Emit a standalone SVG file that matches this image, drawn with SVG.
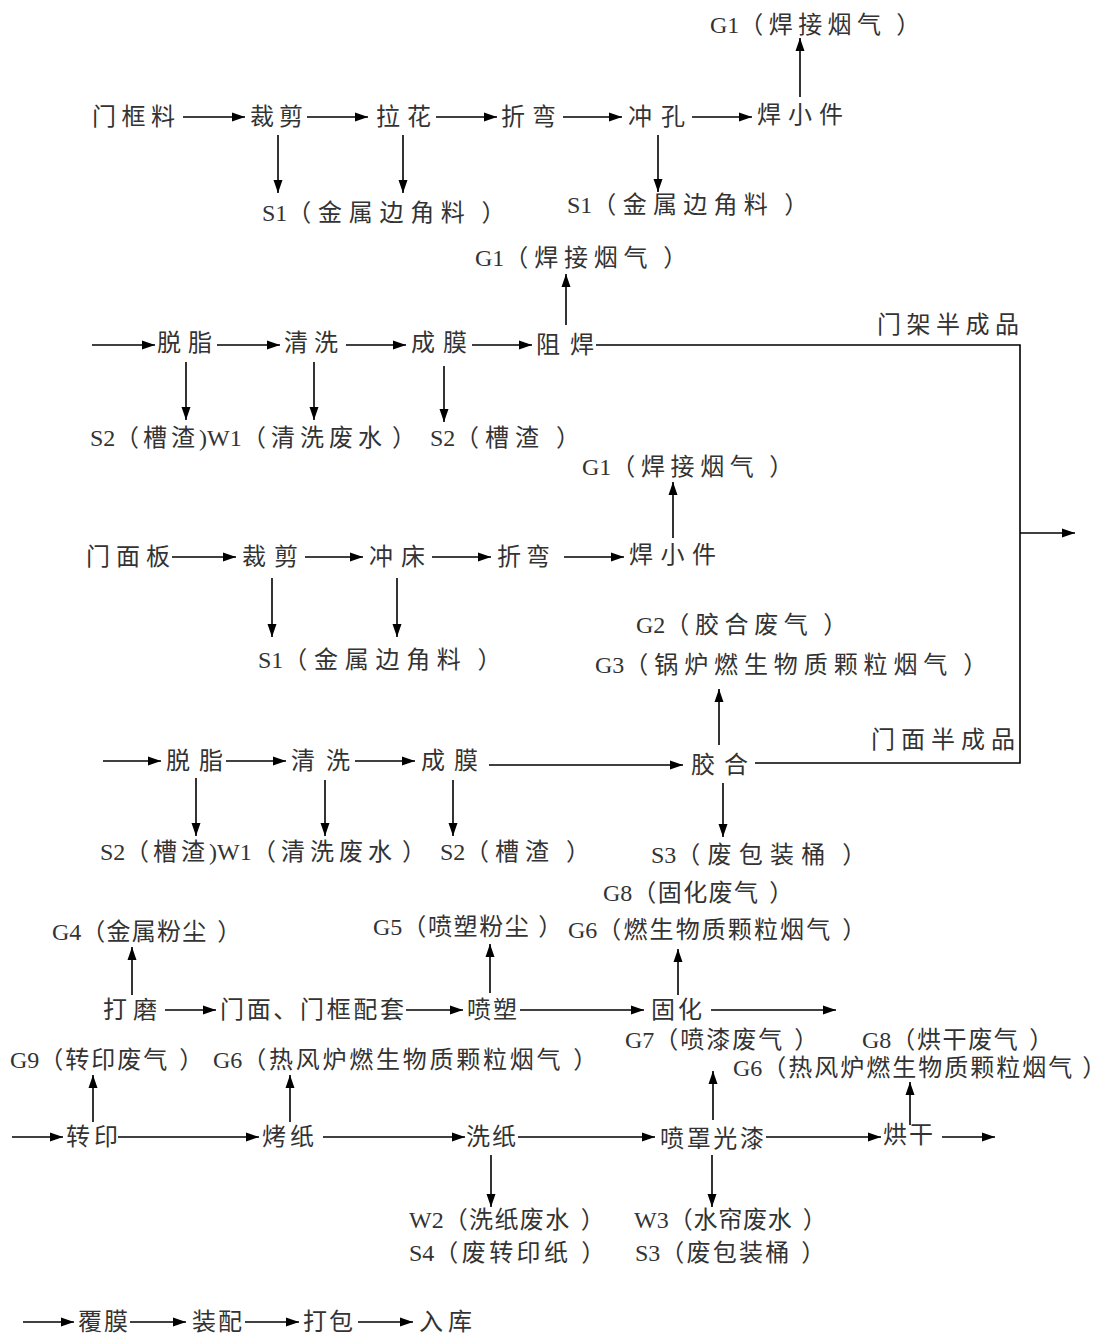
<svg xmlns="http://www.w3.org/2000/svg" width="1109" height="1338" viewBox="0 0 1109 1338">
<style>
text{font-family:"Liberation Serif","Noto Sans CJK SC",serif;font-size:24px;fill:#333;dominant-baseline:central}
.c path{stroke:#000;stroke-width:1.6;fill:none}
.a{marker-end:url(#ah)}
.l{letter-spacing:0}
</style>
<defs>
<marker id="ah" markerUnits="userSpaceOnUse" markerWidth="14" markerHeight="10" refX="13" refY="5" orient="auto">
<path d="M0,0.5 L13,5 L0,9.5 Z" fill="#000"/>
</marker>
</defs>
<rect width="1109" height="1338" fill="#fff"/>
<g class="c" id="connectors">
<path class="a" d="M183,117 H245"/>
<path class="a" d="M307,117 H368"/>
<path class="a" d="M436,117 H497"/>
<path class="a" d="M563,117 H622"/>
<path class="a" d="M692,117 H752"/>
<path class="a" d="M800,97 V38"/>
<path class="a" d="M278,135 V193"/>
<path class="a" d="M403,135 V193"/>
<path class="a" d="M658,135 V192"/>
<path class="a" d="M92,345 H155"/>
<path class="a" d="M217,345 H280"/>
<path class="a" d="M346,345 H406"/>
<path class="a" d="M472,345 H532"/>
<path class="a" d="M566,325 V274"/>
<path d="M596,345 H1020 V763 H755"/>
<path class="a" d="M1020,533 H1075"/>
<path class="a" d="M186,362 V420"/>
<path class="a" d="M314,362 V420"/>
<path class="a" d="M444,366 V422"/>
<path class="a" d="M172,557 H236"/>
<path class="a" d="M305,557 H363"/>
<path class="a" d="M432,557 H491"/>
<path class="a" d="M564,557 H624"/>
<path class="a" d="M673,538 V482"/>
<path class="a" d="M272,578 V637"/>
<path class="a" d="M397,578 V637"/>
<path class="a" d="M103,761 H161"/>
<path class="a" d="M226,761 H286"/>
<path class="a" d="M355,761 H415"/>
<path class="a" d="M489,765 H683"/>
<path class="a" d="M719,745 V689"/>
<path class="a" d="M723,783 V837"/>
<path class="a" d="M196,778 V836"/>
<path class="a" d="M325,780 V836"/>
<path class="a" d="M453,780 V836"/>
<path class="a" d="M165,1010 H216"/>
<path class="a" d="M406,1010 H463"/>
<path class="a" d="M520,1010 H644"/>
<path class="a" d="M711,1010 H836"/>
<path class="a" d="M132,995 V947"/>
<path class="a" d="M490,993 V944"/>
<path class="a" d="M678,995 V949"/>
<path class="a" d="M12,1137 H63"/>
<path class="a" d="M118,1137 H259"/>
<path class="a" d="M323,1137 H465"/>
<path class="a" d="M518,1137 H655"/>
<path class="a" d="M766,1137 H881"/>
<path class="a" d="M942,1137 H995"/>
<path class="a" d="M93,1122 V1075"/>
<path class="a" d="M290,1122 V1075"/>
<path class="a" d="M713,1120 V1071"/>
<path class="a" d="M910,1125 V1082"/>
<path class="a" d="M491,1155 V1207"/>
<path class="a" d="M712,1155 V1207"/>
<path class="a" d="M23,1322 H74"/>
<path class="a" d="M130,1322 H186"/>
<path class="a" d="M245,1322 H299"/>
<path class="a" d="M358,1322 H413"/>
</g>
<!-- row 1 -->
<g id="n_menkuangliao"><text x="92" y="117" textLength="83">门框料</text></g>
<g id="n_caijian1"><text x="250" y="117" textLength="53">裁剪</text></g>
<g id="n_lahua"><text x="376" y="117" textLength="55">拉花</text></g>
<g id="n_zhewan1"><text x="501" y="117" textLength="55">折弯</text></g>
<g id="n_chongkong"><text x="628" y="117" textLength="57">冲孔</text></g>
<g id="n_hanxiaojian1"><text x="757" y="115" textLength="86">焊小件</text></g>
<g id="n_g1a"><text x="710" y="25" style="letter-spacing:5.4px"><tspan class="l">G1</tspan>（焊接烟气<tspan dx="10">）</tspan></text></g>
<g id="n_s1a"><text x="262" y="213" style="letter-spacing:6.7px"><tspan class="l">S1</tspan>（金属边角料<tspan dx="10">）</tspan></text></g>
<g id="n_s1b"><text x="567" y="205" style="letter-spacing:6.3px"><tspan class="l">S1</tspan>（金属边角料<tspan dx="10">）</tspan></text></g>
<!-- row 2 -->
<g id="n_tuozhi1"><text x="157" y="343" textLength="55">脱脂</text></g>
<g id="n_qingxi1"><text x="284" y="343" textLength="54">清洗</text></g>
<g id="n_chengmo1"><text x="411" y="343" textLength="56">成膜</text></g>
<g id="n_zuhan"><text x="536" y="345" textLength="58">阻焊</text></g>
<g id="n_g1b"><text x="475" y="258" style="letter-spacing:5.8px"><tspan class="l">G1</tspan>（焊接烟气<tspan dx="10">）</tspan></text></g>
<g id="n_menjia"><text x="877" y="325" textLength="142">门架半成品</text></g>
<g id="n_waste2"><text y="438"><tspan x="90" class="l">S2</tspan><tspan x="115" style="letter-spacing:4px">（槽渣</tspan><tspan x="199" class="l">)W1</tspan><tspan x="242" style="letter-spacing:5px">（清洗废水</tspan><tspan x="392">）</tspan><tspan x="430" class="l">S2</tspan><tspan x="455" style="letter-spacing:6px">（槽渣</tspan><tspan x="556">）</tspan></text></g>
<!-- row 3 -->
<g id="n_menmianban"><text x="86" y="557" textLength="84">门面板</text></g>
<g id="n_caijian2"><text x="242" y="557" textLength="56">裁剪</text></g>
<g id="n_chongchuang"><text x="369" y="557" textLength="56">冲床</text></g>
<g id="n_zhewan2"><text x="497" y="557" textLength="53">折弯</text></g>
<g id="n_hanxiaojian2"><text x="629" y="555" textLength="87">焊小件</text></g>
<g id="n_g1c"><text x="582" y="467" style="letter-spacing:5.6px"><tspan class="l">G1</tspan>（焊接烟气<tspan dx="10">）</tspan></text></g>
<g id="n_s1c"><text x="258" y="660" style="letter-spacing:6.7px"><tspan class="l">S1</tspan>（金属边角料<tspan dx="10">）</tspan></text></g>
<!-- row 4 -->
<g id="n_tuozhi2"><text x="166" y="761" textLength="57">脱脂</text></g>
<g id="n_qingxi2"><text x="291" y="761" textLength="59">清洗</text></g>
<g id="n_chengmo2"><text x="421" y="761" textLength="57">成膜</text></g>
<g id="n_jiaohe"><text x="691" y="765" textLength="57">胶合</text></g>
<g id="n_g2g3"><text x="636" y="625" style="letter-spacing:5.6px"><tspan class="l">G2</tspan>（胶合废气<tspan dx="10">）</tspan></text><text x="595" y="665" style="letter-spacing:5.9px"><tspan class="l">G3</tspan>（锅炉燃生物质颗粒烟气<tspan dx="10">）</tspan></text></g>
<g id="n_menmian"><text x="871" y="740" textLength="144">门面半成品</text></g>
<g id="n_waste4"><text y="852"><tspan x="100" class="l">S2</tspan><tspan x="125" style="letter-spacing:4px">（槽渣</tspan><tspan x="209" class="l">)W1</tspan><tspan x="252" style="letter-spacing:5px">（清洗废水</tspan><tspan x="402">）</tspan><tspan x="440" class="l">S2</tspan><tspan x="465" style="letter-spacing:6px">（槽渣</tspan><tspan x="566">）</tspan></text></g>
<g id="n_s3a"><text x="651" y="855" style="letter-spacing:7.2px"><tspan class="l">S3</tspan>（废包装桶<tspan dx="10">）</tspan></text></g>
<!-- row 5 -->
<g id="n_damo"><text x="103" y="1010" textLength="54">打磨</text></g>
<g id="n_peitao"><text x="220" y="1010" textLength="184">门面、门框配套</text></g>
<g id="n_pensu"><text x="467" y="1010" textLength="50">喷塑</text></g>
<g id="n_guhua"><text x="651" y="1010" textLength="51">固化</text></g>
<g id="n_g4"><text x="52" y="932" style="letter-spacing:1.2px"><tspan class="l">G4</tspan>（金属粉尘<tspan dx="10">）</tspan></text></g>
<g id="n_g5"><text x="373" y="927" style="letter-spacing:1.6px"><tspan class="l">G5</tspan>（喷塑粉尘<tspan dx="8">）</tspan></text></g>
<g id="n_g8g6"><text x="603" y="893" style="letter-spacing:1.4px"><tspan class="l">G8</tspan>（固化废气<tspan dx="10">）</tspan></text><text x="568" y="930" style="letter-spacing:2.1px"><tspan class="l">G6</tspan>（燃生物质颗粒烟气<tspan dx="10">）</tspan></text></g>
<!-- row 6 -->
<g id="n_zhuanyin"><text x="66" y="1137" textLength="52">转印</text></g>
<g id="n_kaozhi"><text x="262" y="1137" textLength="52">烤纸</text></g>
<g id="n_xizhi"><text x="466" y="1137" textLength="50">洗纸</text></g>
<g id="n_penzhao"><text x="660" y="1139" textLength="104">喷罩光漆</text></g>
<g id="n_honggan"><text x="883" y="1135" textLength="50">烘干</text></g>
<g id="n_g9"><text x="10" y="1060" style="letter-spacing:2px"><tspan class="l">G9</tspan>（转印废气<tspan dx="10">）</tspan></text></g>
<g id="n_g6c"><text x="213" y="1060" style="letter-spacing:2.75px"><tspan class="l">G6</tspan>（热风炉燃生物质颗粒烟气<tspan dx="10">）</tspan></text></g>
<g id="n_g7"><text x="625" y="1040" style="letter-spacing:2px"><tspan class="l">G7</tspan>（喷漆废气<tspan dx="10">）</tspan></text></g>
<g id="n_g8g6b"><text x="862" y="1040" style="letter-spacing:1.6px"><tspan class="l">G8</tspan>（烘干废气<tspan dx="10">）</tspan></text><text x="733" y="1068" style="letter-spacing:2px"><tspan class="l">G6</tspan>（热风炉燃生物质颗粒烟气<tspan dx="8">）</tspan></text></g>
<g id="n_w2s4"><text x="409" y="1220" style="letter-spacing:1.4px"><tspan class="l">W2</tspan>（洗纸废水<tspan dx="10">）</tspan></text><text x="409" y="1253" style="letter-spacing:3.4px"><tspan class="l">S4</tspan>（废转印纸<tspan dx="10">）</tspan></text></g>
<g id="n_w3s3"><text x="634" y="1220" style="letter-spacing:0.8px"><tspan class="l">W3</tspan>（水帘废水<tspan dx="10">）</tspan></text><text x="635" y="1253" style="letter-spacing:2.2px"><tspan class="l">S3</tspan>（废包装桶<tspan dx="10">）</tspan></text></g>
<!-- row 7 -->
<g id="n_fumo"><text x="78" y="1322" textLength="50">覆膜</text></g>
<g id="n_zhuangpei"><text x="192" y="1322" textLength="50">装配</text></g>
<g id="n_dabao"><text x="303" y="1322" textLength="50">打包</text></g>
<g id="n_ruku"><text x="419" y="1322" textLength="53">入库</text></g>
</svg>
